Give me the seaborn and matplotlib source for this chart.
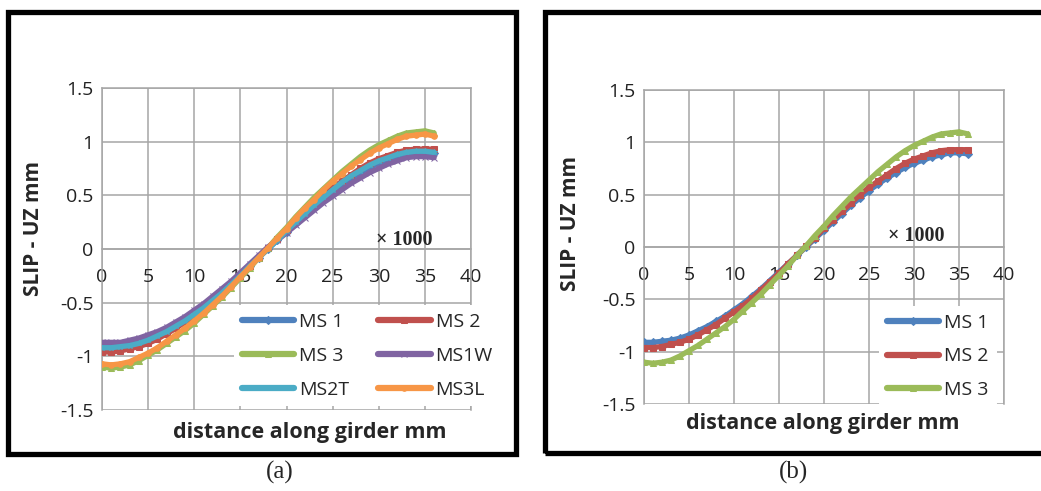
import numpy as np
import pandas as pd
import seaborn as sns
import matplotlib.pyplot as plt
from matplotlib.patches import Rectangle

# distance along girder (x 1000 mm)
distance = list(range(0, 37))

ms1 = [-0.91, -0.91, -0.90, -0.89, -0.87, -0.84, -0.80, -0.76, -0.71, -0.66,
       -0.60, -0.54, -0.47, -0.40, -0.32, -0.24, -0.16, -0.08, 0.00, 0.08,
       0.16, 0.24, 0.32, 0.40, 0.47, 0.54, 0.60, 0.66, 0.71, 0.76,
       0.80, 0.83, 0.86, 0.88, 0.90, 0.90, 0.89]
ms2 = [-0.96, -0.96, -0.95, -0.93, -0.91, -0.88, -0.84, -0.79, -0.74, -0.68,
       -0.62, -0.56, -0.49, -0.41, -0.33, -0.25, -0.16, -0.08, 0.01, 0.09,
       0.18, 0.26, 0.34, 0.42, 0.50, 0.57, 0.63, 0.69, 0.75, 0.80,
       0.84, 0.87, 0.90, 0.92, 0.93, 0.93, 0.93]
ms3 = [-1.10, -1.11, -1.10, -1.08, -1.04, -0.99, -0.94, -0.88, -0.82, -0.76,
       -0.69, -0.61, -0.53, -0.45, -0.36, -0.27, -0.18, -0.08, 0.01, 0.11,
       0.20, 0.30, 0.39, 0.48, 0.56, 0.64, 0.72, 0.79, 0.86, 0.92,
       0.97, 1.01, 1.05, 1.08, 1.09, 1.10, 1.08]
ms1w = [-0.87, -0.87, -0.87, -0.85, -0.83, -0.80, -0.77, -0.73, -0.68, -0.63,
        -0.57, -0.51, -0.44, -0.37, -0.30, -0.22, -0.14, -0.06, 0.02, 0.08,
        0.15, 0.22, 0.29, 0.36, 0.43, 0.49, 0.55, 0.61, 0.66, 0.71,
        0.75, 0.79, 0.82, 0.85, 0.86, 0.86, 0.85]
ms2t = [-0.92, -0.92, -0.91, -0.90, -0.88, -0.85, -0.81, -0.77, -0.72, -0.67,
        -0.61, -0.55, -0.48, -0.41, -0.33, -0.25, -0.16, -0.08, 0.00, 0.08,
        0.17, 0.25, 0.33, 0.41, 0.48, 0.55, 0.62, 0.68, 0.73, 0.78,
        0.82, 0.85, 0.88, 0.90, 0.91, 0.91, 0.90]
ms3l = [-1.07, -1.08, -1.07, -1.05, -1.01, -0.97, -0.92, -0.86, -0.80, -0.74,
        -0.67, -0.60, -0.52, -0.44, -0.35, -0.26, -0.17, -0.08, 0.01, 0.10,
        0.19, 0.29, 0.38, 0.46, 0.55, 0.63, 0.70, 0.77, 0.83, 0.89,
        0.94, 0.98, 1.02, 1.05, 1.06, 1.07, 1.05]

serien_a = [("MS 1", ms1, "#4F81BD", "D"),
            ("MS 2", ms2, "#C0504D", "s"),
            ("MS 3", ms3, "#9BBB59", "^"),
            ("MS1W", ms1w, "#8064A2", "x"),
            ("MS2T", ms2t, "#4BACC6", "*"),
            ("MS3L", ms3l, "#F79646", "o")]
serien_b = serien_a[:3]

sns.set_theme(style="white")
plt.rcParams['font.family'] = ['Open Sans', 'DejaVu Sans']

fig = plt.figure(figsize=(10.41, 4.91), dpi=100)
ax_a = fig.add_axes([0.098, 0.165, 0.3545, 0.656])
ax_b = fig.add_axes([0.6186, 0.177, 0.3459, 0.6397])

FS = 14


def panel(ax, serien, order, legend_kw, mal_pos):
    for name, werte, farbe, marker in serien:
        sns.lineplot(x=distance, y=werte, ax=ax, color=farbe, lw=3.8,
                     marker=marker, markersize=4, markeredgecolor=farbe,
                     label=name, zorder=3)
    ax.set_xlim(0, 40)
    ax.set_ylim(-1.5, 1.5)
    ax.set_xticks(range(0, 41, 5))
    ax.set_yticks([-1.5, -1, -0.5, 0, 0.5, 1, 1.5])
    ax.set_yticklabels(["-1.5", "-1", "-0.5", "0", "0.5", "1", "1.5"])
    ax.grid(True, color="#A6A6A6", lw=1.1)
    for s in ax.spines.values():
        s.set_color("#A6A6A6")
        s.set_linewidth(1.1)
    ax.spines['bottom'].set_position(('data', 0))
    ax.tick_params(length=0, labelsize=FS, colors="#222222", pad=6)
    ax.tick_params(axis='x', pad=14)
    ax.set_xlabel("")
    ax.set_ylabel("")
    h, l = ax.get_legend_handles_labels()
    leg = ax.legend([h[i] for i in order], [l[i] for i in order],
                    loc="upper left", frameon=True, facecolor="white",
                    edgecolor="none", framealpha=1, fontsize=FS,
                    handlelength=2.7, handletextpad=0.25, borderaxespad=0,
                    **legend_kw)
    for line in leg.get_lines():
        line.set_linewidth(4.5)
    leg.set_zorder(5)
    ax.text(mal_pos[0], mal_pos[1], "\u00d7 1000", ha="center", va="center",
            fontsize=14.5, fontweight="bold", family="Liberation Serif",
            zorder=4)


panel(ax_a, serien_a, [0, 2, 4, 1, 3, 5],
      dict(ncol=2, bbox_to_anchor=(0.357, 0.326), columnspacing=1.5,
           labelspacing=0.82),
      (32.8, 0.08))
panel(ax_b, serien_b, [0, 1, 2],
      dict(ncol=1, bbox_to_anchor=(0.653, 0.312), labelspacing=0.8),
      (30.2, 0.11))

# axis titles
fig.text(0.032, 0.535, "SLIP - UZ mm", rotation=90, ha="center", va="center",
         fontsize=15, fontweight="bold")
fig.text(0.298, 0.12, "distance along girder mm", ha="center", va="center",
         fontsize=15.5, fontweight="bold")
fig.text(0.548, 0.545, "SLIP - UZ mm", rotation=90, ha="center", va="center",
         fontsize=15, fontweight="bold")
fig.text(0.79, 0.138, "distance along girder mm", ha="center", va="center",
         fontsize=15.5, fontweight="bold")

# panel frames and captions
fig.patches.append(Rectangle((8 / 1041, 1 - 454 / 491), 508 / 1041, 442 / 491,
                             transform=fig.transFigure, fill=False,
                             lw=3.8, edgecolor="black"))
fig.patches.append(Rectangle((545 / 1041, 1 - 453 / 491), 520 / 1041, 441 / 491,
                             transform=fig.transFigure, fill=False,
                             lw=3.8, edgecolor="black"))
fig.text(280 / 1041, 1 - 472 / 491, "(a)", ha="center", va="center",
         fontsize=18, family="Liberation Serif")
fig.text(793 / 1041, 1 - 472 / 491, "(b)", ha="center", va="center",
         fontsize=18, family="Liberation Serif")

fig.savefig("out.png", dpi=100)
